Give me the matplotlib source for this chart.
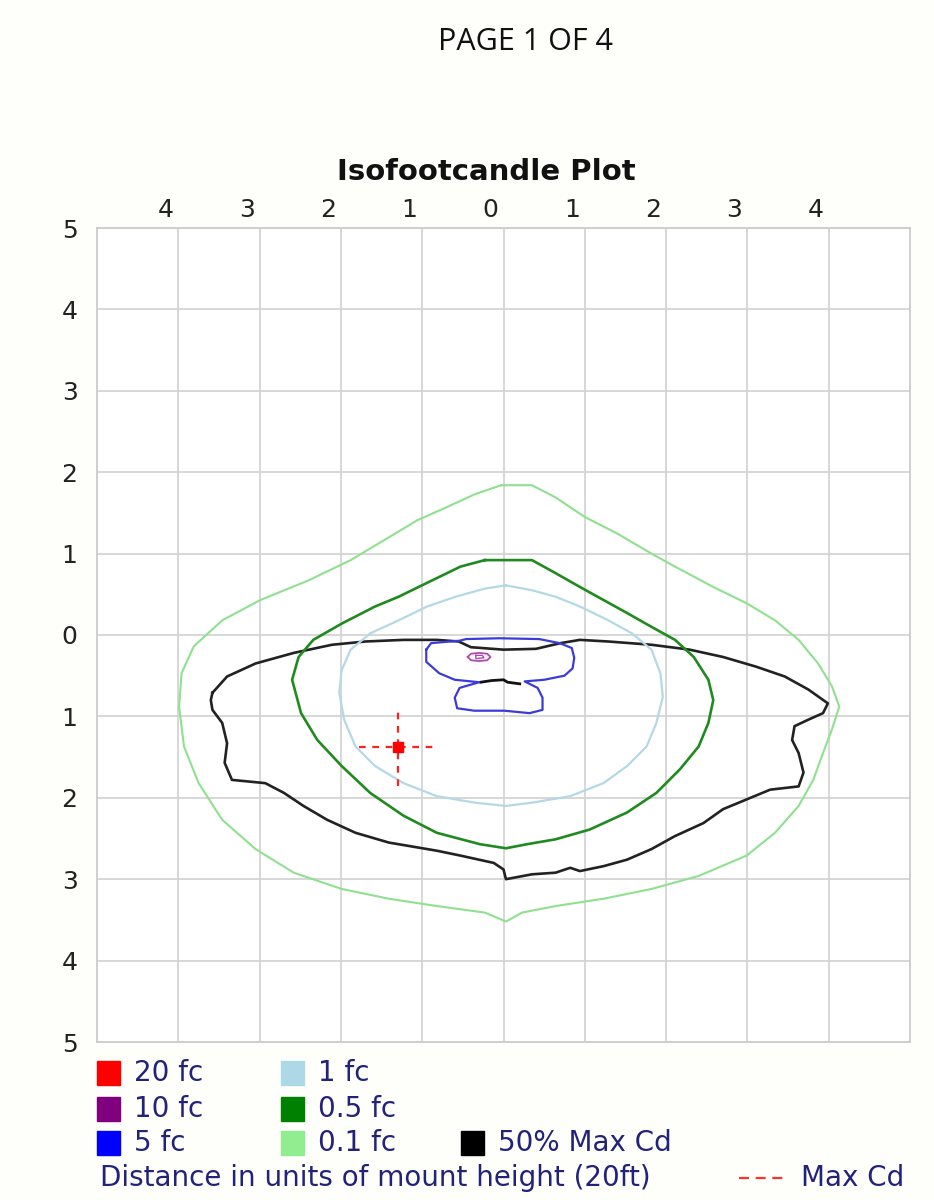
import matplotlib.pyplot as plt
from matplotlib.patches import Rectangle
from matplotlib.transforms import ScaledTranslation

# contour outlines, in units of mount height
fc01 = [(-0.03, 1.84), (0.35, 1.84), (0.64, 1.69), (1.0, 1.45), (1.41, 1.24), (1.82, 1.0),
        (2.11, 0.84), (2.58, 0.59), (2.99, 0.39), (3.34, 0.18), (3.63, -0.06), (3.87, -0.35),
        (4.04, -0.63), (4.13, -0.88), (4.04, -1.16), (3.93, -1.45), (3.81, -1.78), (3.63, -2.10),
        (3.34, -2.43), (2.99, -2.71), (2.4, -2.96), (1.82, -3.12), (1.23, -3.24), (0.64, -3.33),
        (0.23, -3.41), (0.03, -3.52), (-0.23, -3.41), (-0.82, -3.33), (-1.41, -3.24), (-1.99, -3.12),
        (-2.58, -2.92), (-3.05, -2.63), (-3.46, -2.27), (-3.75, -1.82), (-3.93, -1.37), (-3.99, -0.88),
        (-3.96, -0.47), (-3.81, -0.14), (-3.46, 0.18), (-2.99, 0.43), (-2.4, 0.67), (-1.88, 0.92),
        (-1.41, 1.20), (-1.06, 1.41), (-0.70, 1.57), (-0.35, 1.73), (-0.03, 1.84)]

fc05 = [(-0.23, 0.92), (0.35, 0.92), (0.64, 0.76), (0.94, 0.59), (1.23, 0.43), (1.52, 0.27),
        (1.82, 0.10), (2.11, -0.06), (2.34, -0.27), (2.52, -0.55), (2.58, -0.80), (2.52, -1.08),
        (2.40, -1.37), (2.17, -1.65), (1.88, -1.94), (1.52, -2.18), (1.06, -2.39), (0.64, -2.51),
        (0.29, -2.57), (0.03, -2.62), (-0.29, -2.57), (-0.82, -2.43), (-1.23, -2.22), (-1.64, -1.94),
        (-1.99, -1.61), (-2.29, -1.29), (-2.49, -0.96), (-2.60, -0.55), (-2.52, -0.27), (-2.34, -0.06),
        (-1.99, 0.14), (-1.58, 0.35), (-1.29, 0.47), (-0.88, 0.67), (-0.53, 0.84), (-0.23, 0.92)]

fc1 = [(0.03, 0.61), (0.35, 0.55), (0.64, 0.47), (0.94, 0.35), (1.29, 0.18), (1.58, 0.02),
       (1.82, -0.18), (1.93, -0.47), (1.96, -0.76), (1.88, -1.08), (1.76, -1.37), (1.52, -1.61),
       (1.23, -1.82), (0.82, -1.98), (0.35, -2.06), (0.03, -2.10), (-0.35, -2.06), (-0.82, -1.98),
       (-1.23, -1.82), (-1.58, -1.61), (-1.82, -1.37), (-1.96, -1.04), (-2.02, -0.71), (-1.99, -0.43),
       (-1.88, -0.18), (-1.64, 0.02), (-1.29, 0.18), (-0.94, 0.35), (-0.59, 0.47), (-0.23, 0.57),
       (0.03, 0.61)]

fc5 = [(-0.95, -0.18), (-0.89, -0.10), (-0.54, -0.07), (-0.46, -0.05), (-0.05, -0.04), (0.44, -0.05),
       (0.69, -0.10), (0.84, -0.16), (0.87, -0.28), (0.85, -0.41), (0.75, -0.50), (0.50, -0.55),
       (0.26, -0.57), (0.42, -0.65), (0.48, -0.77), (0.48, -0.92), (0.32, -0.96), (0.01, -0.93),
       (-0.36, -0.93), (-0.57, -0.90), (-0.60, -0.77), (-0.54, -0.65), (-0.30, -0.58), (-0.60, -0.55),
       (-0.79, -0.47), (-0.95, -0.33), (-0.95, -0.18)]

fc10 = [(-0.44, -0.27), (-0.40, -0.23), (-0.30, -0.22), (-0.20, -0.23), (-0.16, -0.27),
        (-0.20, -0.31), (-0.30, -0.32), (-0.40, -0.31), (-0.44, -0.27)]
fc10_inner = [(-0.34, -0.25), (-0.26, -0.25), (-0.24, -0.28), (-0.34, -0.29), (-0.34, -0.25)]

half_cd = [(-3.58, -0.71), (-3.40, -0.51), (-3.05, -0.35), (-2.58, -0.22), (-2.11, -0.12), (-1.70, -0.08),
           (-1.23, -0.06), (-0.82, -0.06), (-0.55, -0.08), (-0.40, -0.15), (0.00, -0.18), (0.40, -0.17),
           (0.70, -0.10), (0.94, -0.06), (1.29, -0.08), (1.82, -0.12), (2.29, -0.18), (2.70, -0.27),
           (3.11, -0.39), (3.46, -0.51), (3.75, -0.67), (3.99, -0.84), (3.93, -0.96), (3.75, -1.04),
           (3.58, -1.12), (3.55, -1.29), (3.63, -1.45), (3.69, -1.69), (3.63, -1.86), (3.28, -1.90),
           (2.99, -2.02), (2.70, -2.14), (2.46, -2.31), (2.11, -2.47), (1.82, -2.63), (1.52, -2.76),
           (1.23, -2.84), (0.94, -2.90), (0.82, -2.86), (0.64, -2.92), (0.35, -2.94), (0.03, -3.00),
           (0.00, -2.88), (-0.12, -2.80), (-0.53, -2.71), (-0.82, -2.65), (-1.41, -2.55), (-1.82, -2.43),
           (-2.17, -2.27), (-2.46, -2.10), (-2.70, -1.94), (-2.93, -1.82), (-3.34, -1.78), (-3.43, -1.57),
           (-3.40, -1.33), (-3.46, -1.08), (-3.58, -0.92), (-3.60, -0.80), (-3.58, -0.71)]
half_cd_piece = [(-0.28, -0.58), (-0.15, -0.56), (0.0, -0.55), (0.05, -0.58), (0.20, -0.60)]

max_cd = (-1.30, -1.37)
cross_len = 0.48

x_ticks = [-4, -3, -2, -1, 0, 1, 2, 3, 4]
y_ticks = [-5, -4, -3, -2, -1, 0, 1, 2, 3, 4, 5]

legend_rows = [[("20 fc", "#ff0000"), ("1 fc", "#add8e6")],
               [("10 fc", "#800080"), ("0.5 fc", "#008000")],
               [("5 fc", "#0000ff"), ("0.1 fc", "#90ee90"), ("50% Max Cd", "#000000")]]

W, H = 934, 1200
fig = plt.figure(figsize=(W / 100, H / 100), dpi=100)
fig.patch.set_facecolor("#fefefb")
ax = fig.add_axes([97 / W, 1 - 1042 / H, 813 / W, 814 / H])
ax.set_facecolor("white")

def draw(pts, color, lw=1.7):
    ax.plot([p[0] for p in pts], [p[1] for p in pts], color=color, lw=lw, solid_joinstyle="round")

draw(fc01, "#8fe08f", 1.5)
draw(half_cd, "#222222", 1.9)
draw(half_cd_piece, "#111111", 2.0)
draw(fc05, "#1f8a1f", 1.9)
draw(fc1, "#b4d8e6", 1.6)
draw(fc5, "#3b3bd8", 1.6)
draw(fc10, "#b04ab0", 1.3)
draw(fc10_inner, "#b04ab0", 1.0)

mx, my = max_cd
ax.plot([mx - cross_len, mx + cross_len], [my, my], color="#ff2020", lw=1.6, ls=(0, (3, 3)))
ax.plot([mx, mx], [my - cross_len, my + cross_len], color="#ff2020", lw=1.6, ls=(0, (3, 3)))
ax.plot([mx], [my], marker="s", color="#ff0000", ms=7)

ax.set_xlim(-5, 5)
ax.set_ylim(-5, 5)
ax.set_xticks(x_ticks)
ax.set_yticks(y_ticks)
ax.set_xticklabels([str(abs(t)) for t in x_ticks])
ax.set_yticklabels([str(abs(t)) for t in y_ticks])
ax.xaxis.tick_top()
ax.tick_params(length=0, labelsize=18, colors="#222222")
ax.tick_params(axis="x", pad=4)
ax.tick_params(axis="y", pad=14)
ax.grid(True, color="#d4d4d4", lw=1.3)
ax.set_axisbelow(True)
for s in ax.spines.values():
    s.set_color("#cccccc")
    s.set_linewidth(1.3)

shift = ScaledTranslation(-13 / 100, 0, fig.dpi_scale_trans)
for lab in ax.get_xticklabels():
    lab.set_transform(lab.get_transform() + shift)

fig.text(525 / W, 1 - 42 / H, "PAGE 1 OF 4", ha="center", va="center",
         fontsize=22, family="Open Sans", color="#111111")
fig.text(486 / W, 1 - 172 / H, "Isofootcandle Plot", ha="center", va="center",
         fontsize=21, fontweight="bold", color="#111111")

# legend below the grid
col_x = [97, 281, 461]
row_y = [1073, 1109, 1143]
txt_col = "#22227a"
for r, row in enumerate(legend_rows):
    for c, (lab, col) in enumerate(row):
        fig.add_artist(Rectangle((col_x[c] / W, 1 - (row_y[r] + 12) / H), 23 / W, 24 / H,
                                 transform=fig.transFigure, color=col))
        fig.text((col_x[c] + 37) / W, 1 - row_y[r] / H, lab, ha="left", va="center",
                 fontsize=20, color=txt_col)

fig.text(100 / W, 1 - 1178 / H, "Distance in units of mount height (20ft)", ha="left", va="center",
         fontsize=20, color=txt_col)
fig.add_artist(plt.Line2D([739 / W, 783 / W], [1 - 1178 / H, 1 - 1178 / H], transform=fig.transFigure,
                          color="#ff3030", lw=1.6, ls=(0, (4.5, 3))))
fig.text(904 / W, 1 - 1178 / H, "Max Cd", ha="right", va="center", fontsize=20, color=txt_col)

fig.savefig("out.png", dpi=100, facecolor=fig.get_facecolor())
